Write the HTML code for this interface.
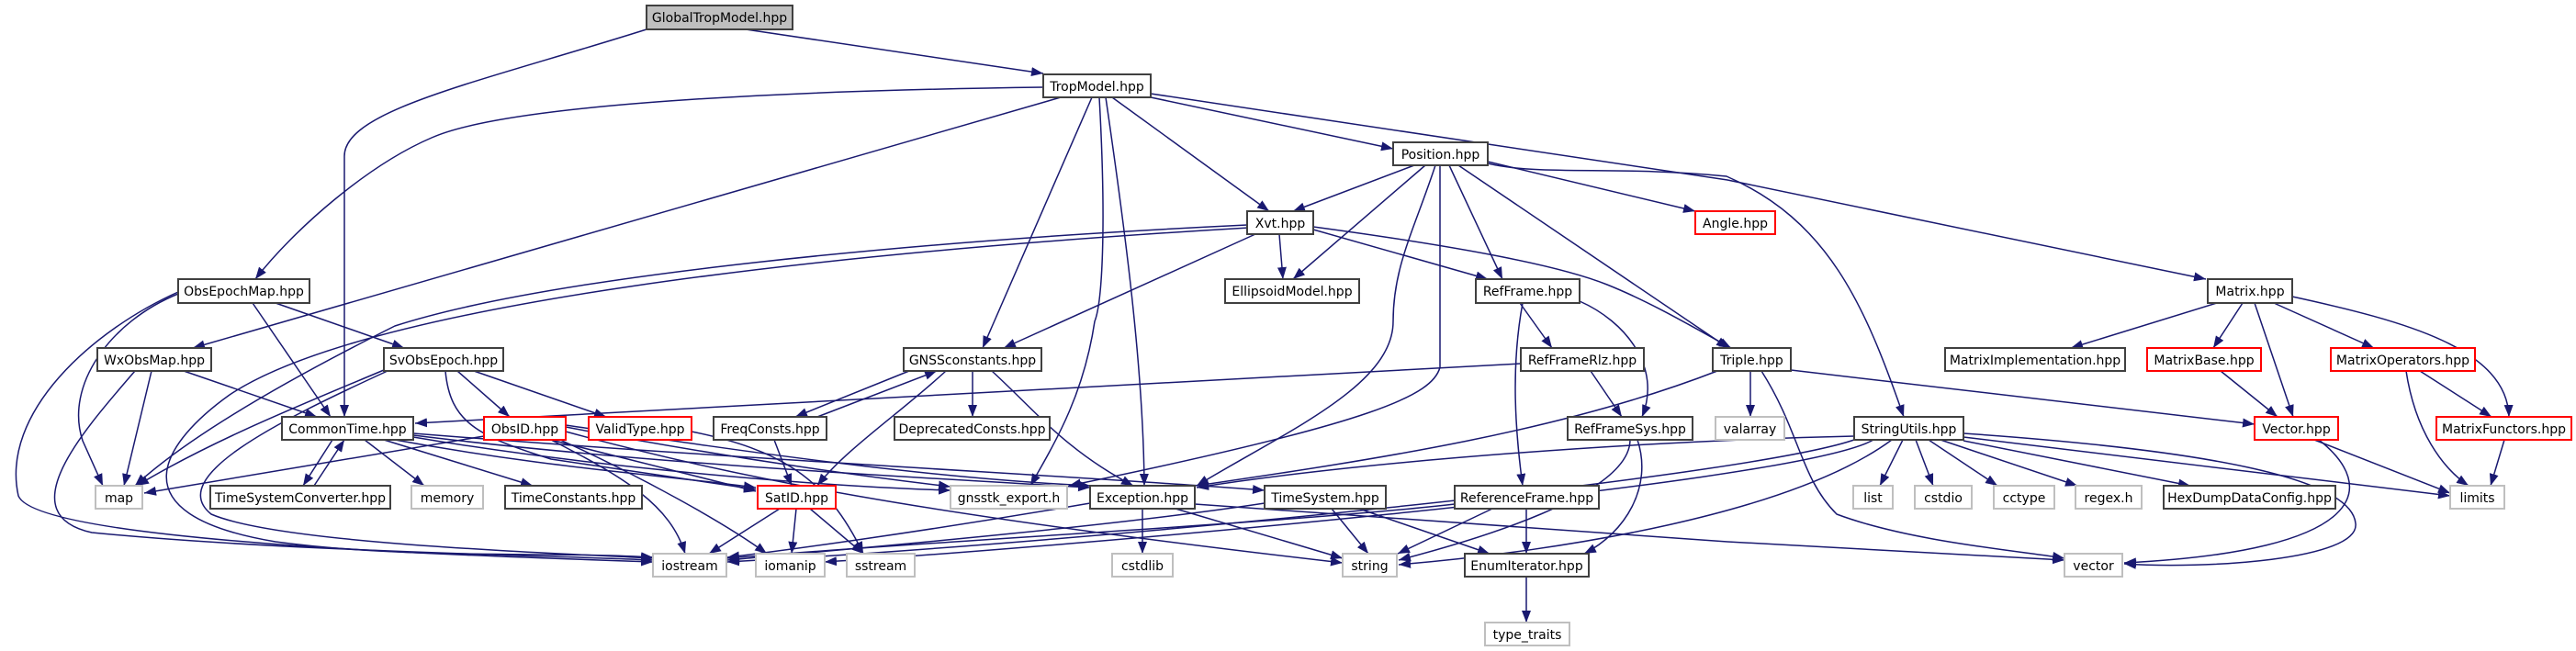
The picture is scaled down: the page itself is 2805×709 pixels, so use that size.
<!DOCTYPE html>
<html><head><meta charset="utf-8"><style>
html,body{margin:0;padding:0;background:#fff;}
svg{display:block;}
text{font-family:"DejaVu Sans","Liberation Sans",sans-serif;font-size:14px;fill:#000;text-anchor:middle;}
.e{fill:none;stroke:#191970;stroke-width:1.5;marker-end:url(#a);}
.b{fill:#fff;stroke:#404040;stroke-width:2;}
.g{fill:#fff;stroke:#bfbfbf;stroke-width:2;}
.r{fill:#fff;stroke:#ff0000;stroke-width:2;}
</style></head><body>
<svg width="2805" height="709" viewBox="0 0 2805 709" xmlns="http://www.w3.org/2000/svg">
<defs><marker id="a" markerUnits="userSpaceOnUse" markerWidth="14" markerHeight="11" refX="13" refY="5" orient="auto"><path d="M0,0 L13,5 L0,10 z" fill="#191970"/></marker></defs>
<g>
<path class="e" d="M812,32 L1136,80"/>
<path class="e" d="M704,32 C520,90 375,120 375,170 L375,454"/>
<path class="e" d="M1136,95 C900,98 560,110 470,150 C400,180 320,250 278,304"/>
<path class="e" d="M1155,106 L210,379"/>
<path class="e" d="M1189,106 L1070,379"/>
<path class="e" d="M1197,106 C1205,250 1200,330 1192,350 C1180,430 1150,480 1122,529"/>
<path class="e" d="M1204,106 C1225,250 1245,400 1246,529"/>
<path class="e" d="M1211,106 L1382,230"/>
<path class="e" d="M1253,106 L1517,162"/>
<path class="e" d="M1253,102 L1881,196 L2402,304"/>
<path class="e" d="M1540,180 L1408,230"/>
<path class="e" d="M1552,180 L1408,304"/>
<path class="e" d="M1578,180 L1636,304"/>
<path class="e" d="M1588,180 L1882,379"/>
<path class="e" d="M1620,176 L1846,230"/>
<path class="e" d="M1620,178 C1680,192 1760,180 1880,192 C1990,240 2030,330 2073,454"/>
<path class="e" d="M1563,180 C1540,250 1517,290 1517,350 C1517,420 1400,470 1303,529"/>
<path class="e" d="M1568,180 L1568,400 C1560,430 1500,460 1164,529"/>
<path class="e" d="M1358,245 C1000,262 600,300 430,355 C300,420 200,480 147,529"/>
<path class="e" d="M1360,248 C900,275 400,330 250,430 C180,480 120,560 300,590 C450,610 600,600 711,607"/>
<path class="e" d="M1393,255 L1397,304"/>
<path class="e" d="M1430,250 L1620,304"/>
<path class="e" d="M1430,247 C1600,270 1700,290 1750,310 C1800,330 1850,360 1885,379"/>
<path class="e" d="M1367,255 L1093,379"/>
<path class="e" d="M194,320 C120,350 70,420 90,480 L112,529"/>
<path class="e" d="M194,318 C100,360 0,450 20,540 C40,590 500,605 711,612"/>
<path class="e" d="M275,330 L360,454"/>
<path class="e" d="M300,330 L440,379"/>
<path class="e" d="M165,404 L135,529"/>
<path class="e" d="M147,404 C90,470 10,560 100,580 C300,600 600,605 711,610"/>
<path class="e" d="M200,404 L345,454"/>
<path class="e" d="M418,403 C330,440 230,480 149,529"/>
<path class="e" d="M422,404 C300,460 180,520 230,560 C300,590 550,600 711,608"/>
<path class="e" d="M498,404 L555,454"/>
<path class="e" d="M516,404 L660,454"/>
<path class="e" d="M485,404 C490,460 520,475 600,500 L823,533"/>
<path class="e" d="M362,479 L330,529"/>
<path class="e" d="M342,529 L375,479"/>
<path class="e" d="M397,479 L462,529"/>
<path class="e" d="M418,479 L580,529"/>
<path class="e" d="M450,474 C700,505 1000,520 1187,531"/>
<path class="e" d="M450,476 C650,510 900,530 1035,534"/>
<path class="e" d="M450,472 C800,500 1200,520 1377,534"/>
<path class="e" d="M430,479 C600,510 700,515 823,531"/>
<path class="e" d="M616,470 C800,520 1000,560 1462,613"/>
<path class="e" d="M527,475 L157,537"/>
<path class="e" d="M600,479 C680,520 730,550 746,603"/>
<path class="e" d="M610,479 C700,520 790,570 835,603"/>
<path class="e" d="M600,479 L823,535"/>
<path class="e" d="M616,465 C800,500 950,520 1035,530"/>
<path class="e" d="M616,463 C800,490 1000,520 1187,529"/>
<path class="e" d="M753,470 C850,490 900,520 940,603"/>
<path class="e" d="M843,479 L862,529"/>
<path class="e" d="M990,404 L866,454"/>
<path class="e" d="M890,454 L1020,404"/>
<path class="e" d="M1030,404 C980,450 920,490 890,529"/>
<path class="e" d="M1059,404 L1059,454"/>
<path class="e" d="M1080,404 C1130,450 1160,490 1234,529"/>
<path class="e" d="M849,554 L772,603"/>
<path class="e" d="M867,554 L862,603"/>
<path class="e" d="M882,554 L940,603"/>
<path class="e" d="M1187,548 C1000,580 850,600 792,607"/>
<path class="e" d="M1244,554 L1244,603"/>
<path class="e" d="M1280,554 L1462,608"/>
<path class="e" d="M1301,549 L1881,590 L2248,610"/>
<path class="e" d="M1377,548 C1200,575 900,600 792,610"/>
<path class="e" d="M1450,554 L1490,603"/>
<path class="e" d="M1480,554 L1622,603"/>
<path class="e" d="M1584,549 C1400,570 1000,590 792,608"/>
<path class="e" d="M1625,554 L1522,603"/>
<path class="e" d="M1662,554 L1662,603"/>
<path class="e" d="M1662,628 L1662,678"/>
<path class="e" d="M1655,330 L1690,379"/>
<path class="e" d="M1720,328 C1770,350 1810,400 1788,454"/>
<path class="e" d="M1658,330 C1645,400 1650,470 1658,529"/>
<path class="e" d="M1732,404 L1766,454"/>
<path class="e" d="M1656,396 L452,461"/>
<path class="e" d="M1775,479 C1775,540 1600,590 1523,610"/>
<path class="e" d="M1783,479 C1800,530 1770,580 1725,603"/>
<path class="e" d="M1906,404 L1906,454"/>
<path class="e" d="M1918,404 C1960,470 1960,520 2000,560 C2080,590 2200,600 2248,608"/>
<path class="e" d="M1950,403 L2455,462"/>
<path class="e" d="M1870,404 C1700,470 1500,500 1303,529"/>
<path class="e" d="M2072,479 L2047,529"/>
<path class="e" d="M2086,479 L2105,529"/>
<path class="e" d="M2100,479 L2175,529"/>
<path class="e" d="M2113,479 L2262,529"/>
<path class="e" d="M2138,480 L2385,529"/>
<path class="e" d="M2138,476 L2668,540"/>
<path class="e" d="M2138,472 C2400,490 2560,520 2565,570 C2570,610 2400,620 2313,614"/>
<path class="e" d="M2019,475 C1800,480 1500,500 1303,531"/>
<path class="e" d="M2019,479 C1900,520 1200,590 792,612"/>
<path class="e" d="M2040,479 C1950,530 1100,600 898,612"/>
<path class="e" d="M2060,479 C1950,560 1700,600 1523,615"/>
<path class="e" d="M2520,479 L2668,537"/>
<path class="e" d="M2525,479 C2590,530 2580,600 2313,613"/>
<path class="e" d="M2414,330 L2255,379"/>
<path class="e" d="M2442,330 L2410,379"/>
<path class="e" d="M2455,330 L2497,454"/>
<path class="e" d="M2476,330 L2585,379"/>
<path class="e" d="M2496,323 C2620,350 2730,380 2732,454"/>
<path class="e" d="M2418,404 L2480,454"/>
<path class="e" d="M2635,404 L2713,454"/>
<path class="e" d="M2620,404 C2630,470 2660,510 2688,529"/>
<path class="e" d="M2727,479 L2712,529"/>
</g>
<g>
<rect x="704" y="6" width="159" height="26" fill="#bfbfbf" stroke="#404040" stroke-width="2"/><text x="783.5" y="24">GlobalTropModel.hpp</text>
<rect class="b" x="1136" y="81" width="117" height="25"/><text x="1194.5" y="99">TropModel.hpp</text>
<rect class="b" x="1517" y="155" width="103" height="25"/><text x="1568.5" y="173">Position.hpp</text>
<rect class="b" x="1358" y="230" width="72" height="25"/><text x="1394" y="248">Xvt.hpp</text>
<rect class="r" x="1846" y="230" width="87" height="25"/><text x="1889.5" y="248">Angle.hpp</text>
<rect class="b" x="194" y="304" width="143" height="26"/><text x="265.5" y="322">ObsEpochMap.hpp</text>
<rect class="b" x="1334" y="304" width="146" height="26"/><text x="1407" y="322">EllipsoidModel.hpp</text>
<rect class="b" x="1607" y="304" width="113" height="26"/><text x="1663.5" y="322">RefFrame.hpp</text>
<rect class="b" x="2404" y="304" width="92" height="26"/><text x="2450" y="322">Matrix.hpp</text>
<rect class="b" x="106" y="379" width="124" height="25"/><text x="168" y="397">WxObsMap.hpp</text>
<rect class="b" x="418" y="379" width="130" height="25"/><text x="483" y="397">SvObsEpoch.hpp</text>
<rect class="b" x="984" y="379" width="150" height="25"/><text x="1059" y="397">GNSSconstants.hpp</text>
<rect class="b" x="1656" y="379" width="134" height="25"/><text x="1723" y="397">RefFrameRlz.hpp</text>
<rect class="b" x="1865" y="379" width="85" height="25"/><text x="1907.5" y="397">Triple.hpp</text>
<rect class="b" x="2118" y="379" width="196" height="25"/><text x="2216" y="397">MatrixImplementation.hpp</text>
<rect class="r" x="2338" y="379" width="124" height="25"/><text x="2400" y="397">MatrixBase.hpp</text>
<rect class="r" x="2538" y="379" width="157" height="25"/><text x="2616.5" y="397">MatrixOperators.hpp</text>
<rect class="b" x="307" y="454" width="143" height="25"/><text x="378.5" y="472">CommonTime.hpp</text>
<rect class="r" x="527" y="454" width="89" height="25"/><text x="571.5" y="472">ObsID.hpp</text>
<rect class="r" x="641" y="454" width="112" height="25"/><text x="697" y="472">ValidType.hpp</text>
<rect class="b" x="777" y="454" width="123" height="25"/><text x="838.5" y="472">FreqConsts.hpp</text>
<rect class="b" x="974" y="454" width="169" height="25"/><text x="1058.5" y="472">DeprecatedConsts.hpp</text>
<rect class="b" x="1707" y="454" width="136" height="25"/><text x="1775" y="472">RefFrameSys.hpp</text>
<rect class="g" x="1868" y="454" width="75" height="25"/><text x="1905.5" y="472">valarray</text>
<rect class="b" x="2019" y="454" width="119" height="25"/><text x="2078.5" y="472">StringUtils.hpp</text>
<rect class="r" x="2455" y="454" width="91" height="25"/><text x="2500.5" y="472">Vector.hpp</text>
<rect class="r" x="2653" y="454" width="147" height="25"/><text x="2726.5" y="472">MatrixFunctors.hpp</text>
<rect class="g" x="104" y="529" width="51" height="25"/><text x="129.5" y="547">map</text>
<rect class="b" x="229" y="529" width="196" height="25"/><text x="327" y="547">TimeSystemConverter.hpp</text>
<rect class="g" x="448" y="529" width="78" height="25"/><text x="487" y="547">memory</text>
<rect class="b" x="550" y="529" width="149" height="25"/><text x="624.5" y="547">TimeConstants.hpp</text>
<rect class="r" x="825" y="529" width="85" height="25"/><text x="867.5" y="547">SatID.hpp</text>
<rect class="g" x="1035" y="529" width="127" height="25"/><text x="1098.5" y="547">gnsstk_export.h</text>
<rect class="b" x="1187" y="529" width="114" height="25"/><text x="1244" y="547">Exception.hpp</text>
<rect class="b" x="1377" y="529" width="132" height="25"/><text x="1443" y="547">TimeSystem.hpp</text>
<rect class="b" x="1584" y="529" width="157" height="25"/><text x="1662.5" y="547">ReferenceFrame.hpp</text>
<rect class="g" x="2018" y="529" width="43" height="25"/><text x="2039.5" y="547">list</text>
<rect class="g" x="2085" y="529" width="62" height="25"/><text x="2116" y="547">cstdio</text>
<rect class="g" x="2171" y="529" width="66" height="25"/><text x="2204" y="547">cctype</text>
<rect class="g" x="2260" y="529" width="72" height="25"/><text x="2296" y="547">regex.h</text>
<rect class="b" x="2356" y="529" width="187" height="25"/><text x="2449.5" y="547">HexDumpDataConfig.hpp</text>
<rect class="g" x="2668" y="529" width="59" height="25"/><text x="2697.5" y="547">limits</text>
<rect class="g" x="711" y="603" width="80" height="25"/><text x="751" y="621">iostream</text>
<rect class="g" x="823" y="603" width="75" height="25"/><text x="860.5" y="621">iomanip</text>
<rect class="g" x="922" y="603" width="74" height="25"/><text x="959" y="621">sstream</text>
<rect class="g" x="1211" y="603" width="66" height="25"/><text x="1244" y="621">cstdlib</text>
<rect class="g" x="1462" y="603" width="59" height="25"/><text x="1491.5" y="621">string</text>
<rect class="b" x="1595" y="603" width="135" height="25"/><text x="1662.5" y="621">EnumIterator.hpp</text>
<rect class="g" x="2248" y="603" width="63" height="25"/><text x="2279.5" y="621">vector</text>
<rect class="g" x="1617" y="678" width="92" height="25"/><text x="1663" y="696">type_traits</text>
</g>
</svg>
</body></html>
